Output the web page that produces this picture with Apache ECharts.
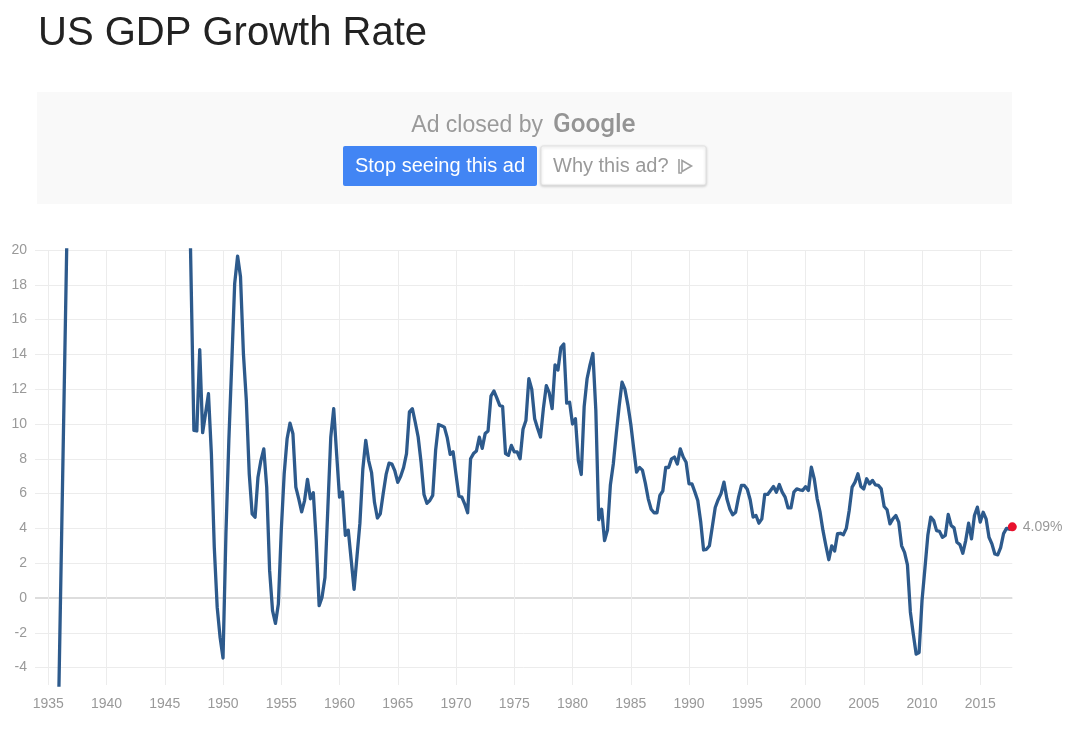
<!DOCTYPE html>
<html>
<head>
<meta charset="utf-8">
<script src="https://cdn.jsdelivr.net/npm/echarts@6/dist/echarts.min.js"></script>
<style>
html,body{margin:0;padding:0;background:#fff;}
#c{width:1077px;height:737px;}
</style>
</head>
<body>
<div id="c"></div>
<script>
// Early (annual, mostly off-scale) observations
const earlyYears = [1935.75, 1941.75];
const earlyValues = [-11.4, 216];

// Quarterly observations starting 1947 Q3 (decimal year of first quarter)
const quarterlyStart = 1947.5;
const growth = [
  9.63, 9.6,                    // 1947
  14.28, 9.5, 10.6, 11.74,      // 1948
  8.3, 2.9, -0.54, -2.27,       // 1949
  -3.45, 3.7, 9.06, 13.5,       // 1950
  18.07, 19.65, 18.46, 14.05,   // 1951
  11.36, 7.14, 4.83, 4.64,      // 1952
  6.94, 7.9, 8.57, 6.37,        // 1953
  1.57, -0.73, -1.46, -0.35,    // 1954
  3.88, 7.14, 9.15, 10.05,      // 1955
  9.44, 6.37, 5.7, 4.95,        // 1956
  5.6, 6.82, 5.7, 6.05,         // 1957
  3.3, -0.44, 0.05, 1.18,       // 1958
  5.2, 9.25, 10.88, 8.29,       // 1959
  5.8, 6.1, 3.6, 3.9,           // 1960
  2.2, 0.5, 2.4, 4.3,           // 1961
  7.4, 9.06, 7.9, 7.2,          // 1962
  5.5, 4.6, 4.84, 6.0,          // 1963
  7.1, 7.75, 7.7, 7.3,          // 1964
  6.65, 7.0, 7.5, 8.3,          // 1965
  10.7, 10.88, 10.1, 9.25,      // 1966
  7.8, 5.95, 5.44, 5.6,         // 1967
  5.9, 8.5, 9.97, 9.9,          // 1968
  9.82, 9.2, 8.25, 8.4,         // 1969
  7.1, 5.85, 5.8, 5.4,          // 1970
  4.9, 8.0, 8.3, 8.45,          // 1971
  9.25, 8.6, 9.45, 9.6,         // 1972
  11.6, 11.9, 11.5, 11.07,      // 1973
  11.0, 8.3, 8.2, 8.77,         // 1974
  8.4, 8.4, 8.0, 9.7,           // 1975
  10.2, 12.6, 12.0, 10.3,       // 1976
  9.75, 9.25, 10.9, 12.2,       // 1977
  11.8, 10.88, 13.4, 13.1,      // 1978
  14.4, 14.6, 11.2, 11.25,      // 1979
  10.0, 10.3, 7.9, 7.1,         // 1980
  11.0, 12.6, 13.4, 14.05,      // 1981
  10.8, 4.5, 5.1, 3.3,          // 1982
  3.9, 6.5, 7.7, 9.4,           // 1983
  11.0, 12.4, 12.0, 11.1,       // 1984
  10.0, 8.6, 7.23, 7.5,         // 1985
  7.35, 6.6, 5.7, 5.1,          // 1986
  4.9, 4.9, 5.9, 6.15,          // 1987
  7.5, 7.5, 8.0, 8.1,           // 1988
  7.7, 8.57, 8.1, 7.8,          // 1989
  6.56, 6.56, 6.1, 5.6,         // 1990
  4.4, 2.76, 2.8, 3.0,          // 1991
  4.1, 5.2, 5.65, 6.0,          // 1992
  6.66, 5.7, 5.12, 4.78,        // 1993
  4.93, 5.8, 6.47, 6.47,        // 1994
  6.25, 5.65, 4.65, 4.74,       // 1995
  4.3, 4.55, 5.95, 5.95,        // 1996
  6.18, 6.41, 6.08, 6.52,       // 1997
  6.08, 5.8, 5.18, 5.18,        // 1998
  6.08, 6.27, 6.22, 6.18,       // 1999
  6.4, 6.18, 7.52, 6.85,        // 2000
  5.7, 4.93, 3.87, 3.0,         // 2001
  2.2, 3.0, 2.7, 3.7,           // 2002
  3.72, 3.64, 4.0, 5.03,        // 2003
  6.37, 6.66, 7.14, 6.41,       // 2004
  6.27, 6.85, 6.56, 6.76,       // 2005
  6.5, 6.47, 6.27, 5.26,        // 2006
  5.07, 4.26, 4.55, 4.74,       // 2007
  4.36, 3.0, 2.62, 1.9,         // 2008
  -0.8, -2.07, -3.23, -3.13,    // 2009
  -0.15, 1.7, 3.6, 4.65,        // 2010
  4.45, 3.87, 3.83, 3.49,       // 2011
  3.6, 4.8, 4.17, 4.03,         // 2012
  3.2, 3.07, 2.57, 3.3,         // 2013
  4.3, 3.4, 4.74, 5.22,         // 2014
  4.36, 4.93, 4.55, 3.49,       // 2015
  3.11, 2.53, 2.48, 2.9,        // 2016
  3.7, 4.0, 3.95, 4.09          // 2017
];

const xTickLabels = [1935, 1940, 1945, 1950, 1955, 1960, 1965, 1970, 1975, 1980, 1985, 1990, 1995, 2000, 2005, 2010, 2015];
const yTickLabels = [-4, -2, 0, 2, 4, 6, 8, 10, 12, 14, 16, 18, 20];

const points = earlyYears.map((y, i) => [y, earlyValues[i]])
  .concat(growth.map((v, i) => [quarterlyStart + i * 0.25, v]));
const lastPoint = points[points.length - 1];

const FONT = "'Liberation Sans', Arial, Helvetica, sans-serif";
const chart = echarts.init(document.getElementById('c'), null, {renderer: 'canvas'});

chart.setOption({
  animation: false,
  backgroundColor: '#ffffff',
  textStyle: {fontFamily: FONT},
  grid: {left: 35, right: 64.7, top: 250, bottom: 52, containLabel: false},
  xAxis: {
    type: 'value',
    min: 1933.86,
    max: lastPoint[0],
    axisLine: {show: false},
    axisTick: {show: false, customValues: xTickLabels},
    axisLabel: {
      customValues: xTickLabels,
      color: '#999999', fontSize: 14, fontFamily: FONT, margin: 12,
      formatter: v => String(v)
    },
    splitLine: {show: true, lineStyle: {color: '#ececec', width: 1}}
  },
  yAxis: [{
    type: 'value',
    min: -5, max: 20,
    axisLine: {show: false},
    axisTick: {show: false, customValues: yTickLabels},
    axisLabel: {
      customValues: yTickLabels,
      color: '#999999', fontSize: 14, fontFamily: FONT, margin: 8
    },
    splitLine: {show: true, lineStyle: {color: '#ececec', width: 1}}
  }, {
    type: 'value',
    min: -5, max: 20,
    position: 'left',
    axisLine: {show: false},
    axisTick: {show: false, customValues: [0]},
    axisLabel: {show: false, customValues: [0]},
    splitLine: {show: true, lineStyle: {color: '#dddddd', width: 2}}
  }],
  series: [{
    type: 'line',
    data: points,
    showSymbol: false,
    symbol: 'none',
    clip: true,
    z: 3,
    lineStyle: {color: '#2d5a8c', width: 3.3, join: 'round', cap: 'round'}
  }, {
    type: 'scatter',
    data: [lastPoint],
    symbolSize: 9,
    clip: false,
    z: 4,
    itemStyle: {color: '#e8112d', opacity: 1},
    label: {
      show: true, position: 'right', distance: 6,
      formatter: p => p.value[1].toFixed(2) + '%',
      color: '#999999', fontSize: 14, fontFamily: FONT
    }
  }],
  graphic: [
    {type: 'text', x: 38, y: 34, style: {text: 'US GDP Growth Rate', fontSize: 40, fontFamily: FONT, fill: '#222222', textAlign: 'left', textVerticalAlign: 'middle'}},
    {type: 'rect', shape: {x: 37, y: 92, width: 975, height: 112}, style: {fill: '#f9f9f9'}},
    {type: 'text', x: 543, y: 126, style: {text: 'Ad closed by', fontSize: 23, fontFamily: FONT, fill: '#9a9a9a', textAlign: 'right', textVerticalAlign: 'middle'}},
    {type: 'text', x: 553, y: 125, style: {text: 'Google', fontSize: 26, fontWeight: 500, fontFamily: "Roboto, 'Liberation Sans', Arial, sans-serif", fill: '#949494', textAlign: 'left', textVerticalAlign: 'middle'}},
    {type: 'rect', shape: {x: 343, y: 146, width: 194, height: 40, r: 2}, style: {fill: '#4285f4'}},
    {type: 'text', x: 440, y: 166, style: {text: 'Stop seeing this ad', fontSize: 20, fontFamily: FONT, fill: '#ffffff', textAlign: 'center', textVerticalAlign: 'middle'}},
    {type: 'rect', shape: {x: 541, y: 146, width: 165, height: 39, r: 2}, style: {fill: '#ffffff', stroke: '#e2e2e2', lineWidth: 1, shadowBlur: 3, shadowColor: 'rgba(0,0,0,0.18)', shadowOffsetY: 1}},
    {type: 'text', x: 553, y: 166, style: {text: 'Why this ad?', fontSize: 20, fontFamily: FONT, fill: '#9a9a9a', textAlign: 'left', textVerticalAlign: 'middle'}},
    {type: 'polyline', shape: {points: [[679, 159], [679, 173], [682, 173]]}, style: {stroke: '#a0a0a0', lineWidth: 1.6, fill: null}},
    {type: 'polygon', shape: {points: [[682, 160.5], [691.5, 166], [682, 171.5]]}, style: {stroke: '#a0a0a0', lineWidth: 1.6, fill: null}}
  ]
});
</script>
</body>
</html>
